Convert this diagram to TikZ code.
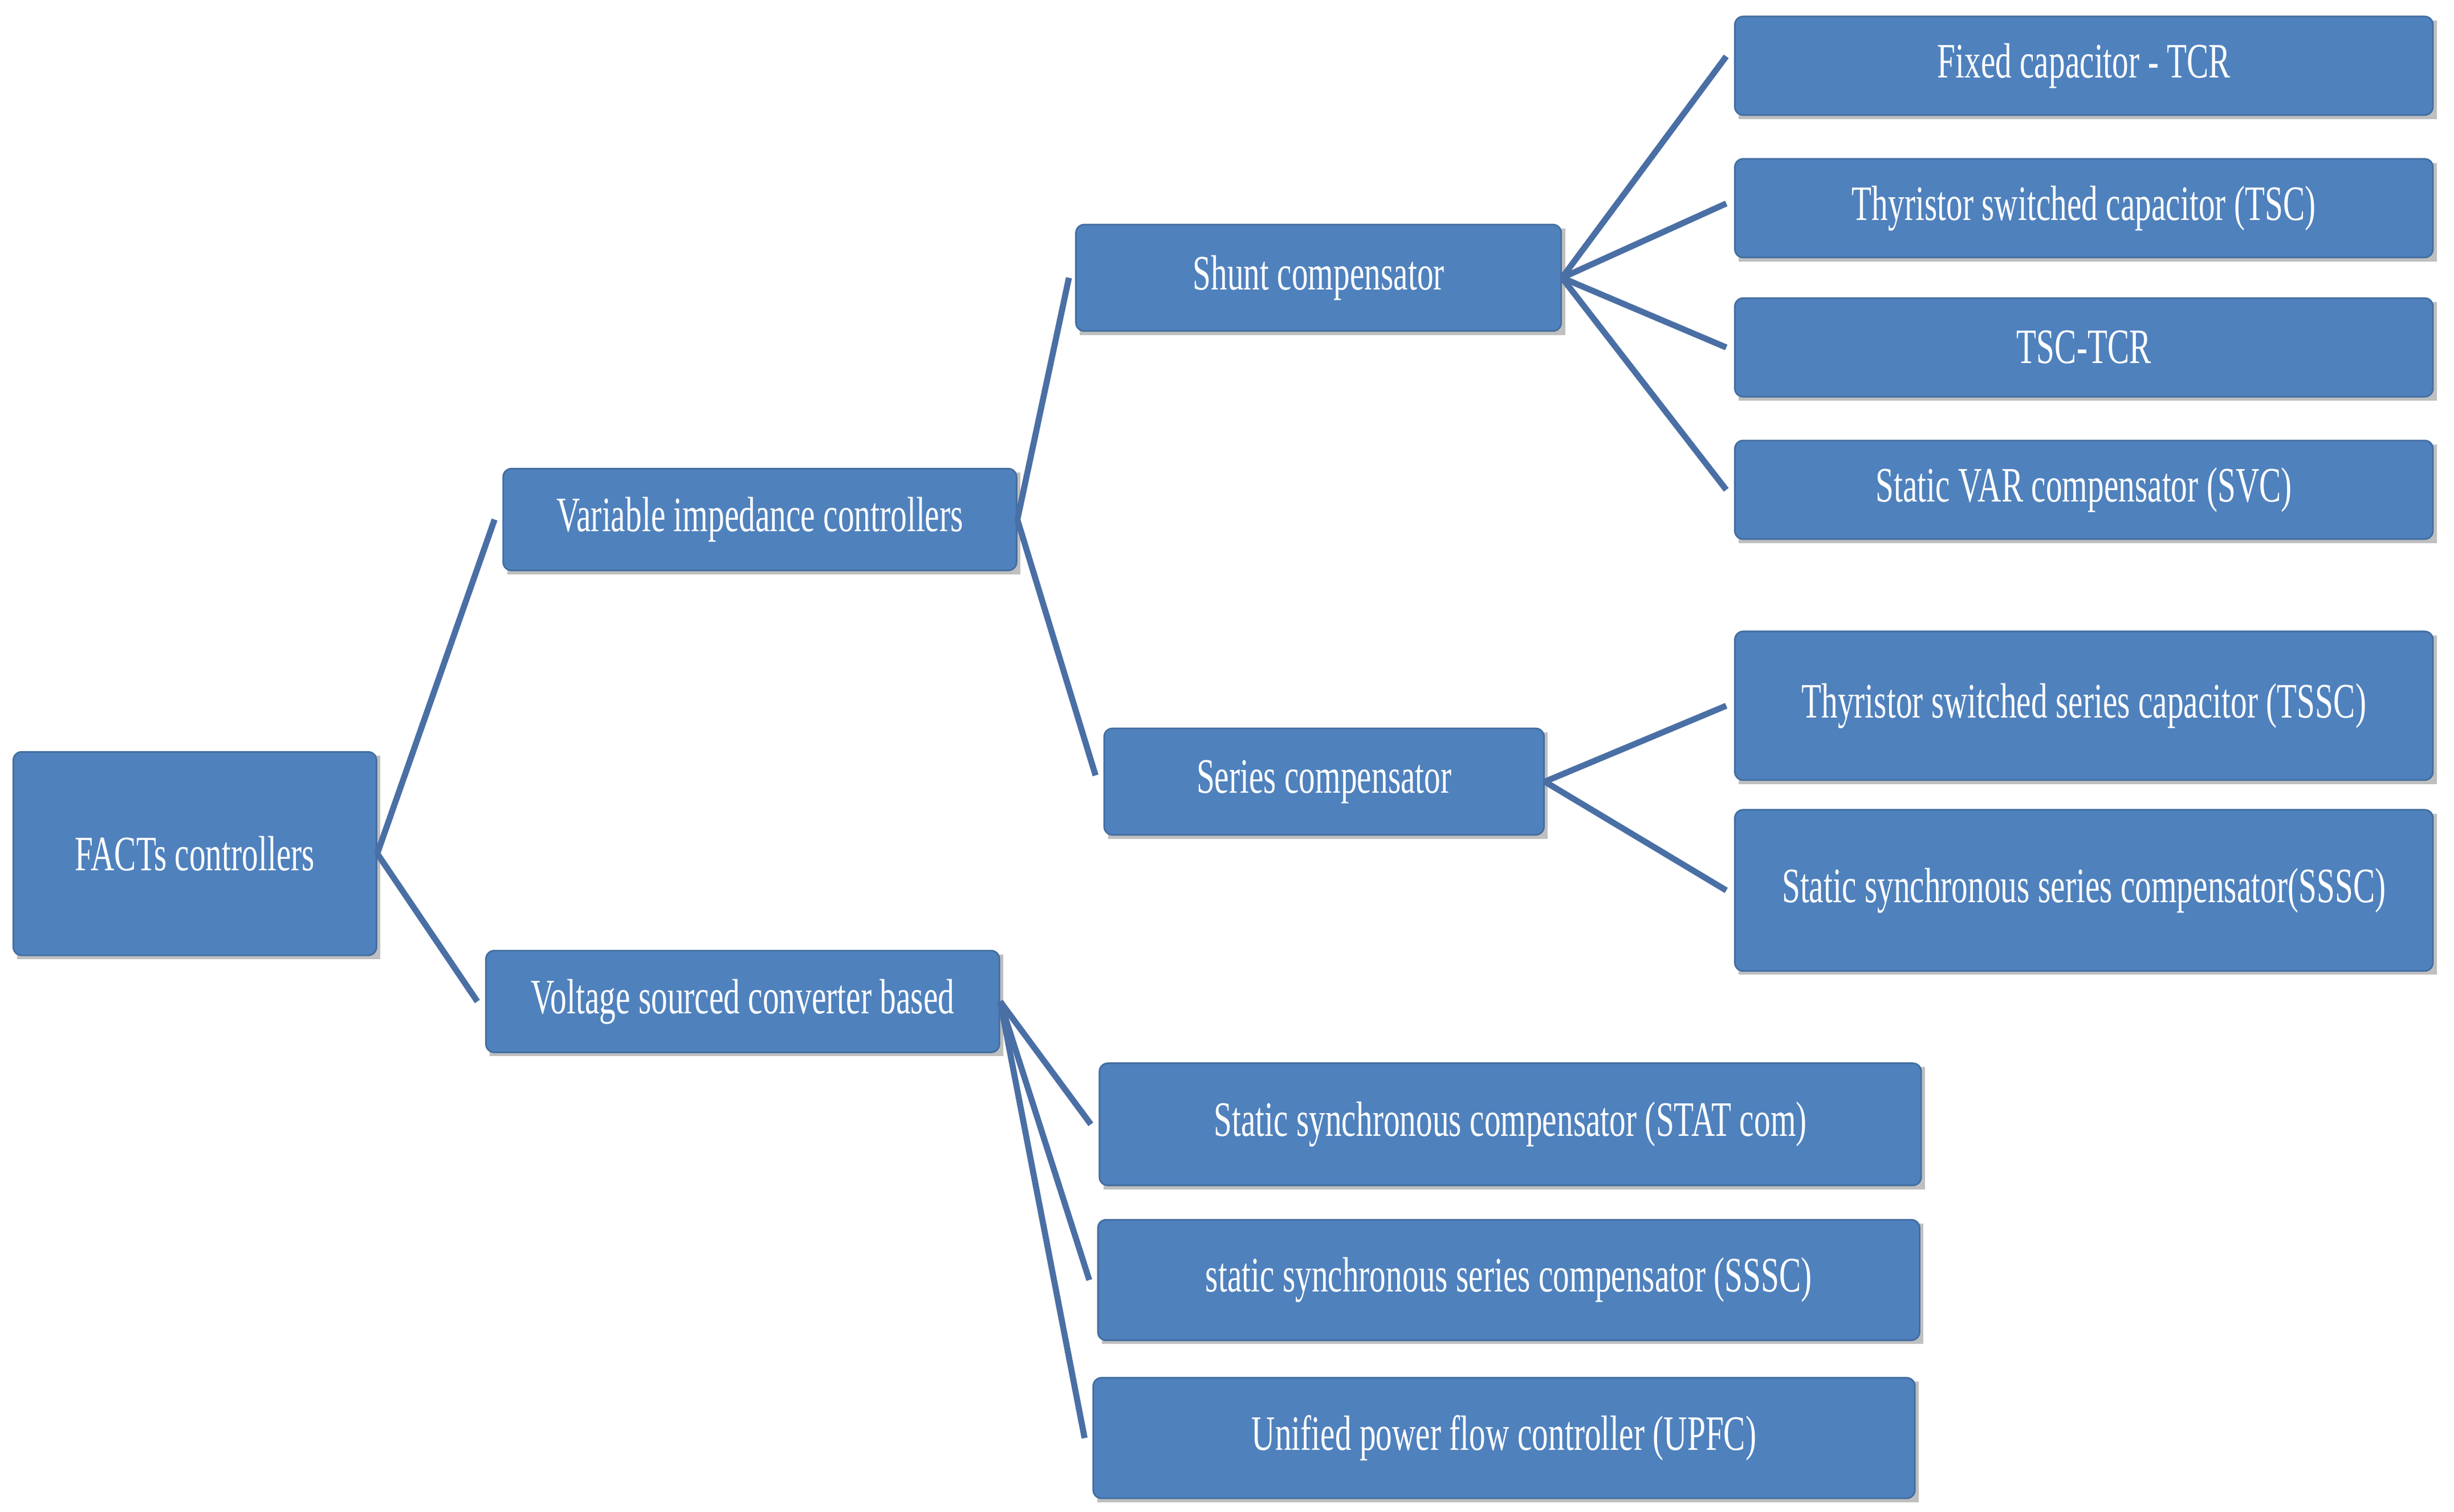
\documentclass[tikz,border=0pt]{standalone}
\usepackage{fontspec}
\setmainfont{Liberation Serif}[FakeStretch=0.66]
\usetikzlibrary{calc}
\definecolor{boxc}{HTML}{4F81BD}
\definecolor{linec}{HTML}{4A6FA5}
\begin{document}
\begin{tikzpicture}[x=0.01cm,y=-0.01cm,
  box/.style={fill=boxc,draw=boxc!85!black,line width=0.3pt,rounded corners=1.5pt,text=white,font=\fontsize{9}{10}\selectfont},
  ln/.style={draw=linec,line width=1.1pt}]
\useasboundingbox (0,0) rectangle (1568,966);
\newcommand{\bx}[6]{\fill[black!25] (#2+3,#3+3) rectangle (#4+3,#5+3);
  \node[box,minimum width={(#4-#2)*0.01cm},minimum height={(#5-#3)*0.01cm},anchor=north west,inner sep=0pt] (#1) at (#2,#3) {#6};}
\bx{f}{8}{480}{240}{610}{FACTs controllers}
\bx{v}{321}{299}{649}{364}{Variable impedance controllers}
\bx{vs}{310}{607}{638}{672}{Voltage sourced converter based}
\bx{sh}{687}{143}{997}{211}{Shunt compensator}
\bx{se}{705}{465}{986}{533}{Series compensator}
\bx{a1}{1108}{10}{1554}{73}{Fixed capacitor - TCR}
\bx{a2}{1108}{101}{1554}{164}{Thyristor switched capacitor (TSC)}
\bx{a3}{1108}{190}{1554}{253}{TSC-TCR}
\bx{a4}{1108}{281}{1554}{344}{Static VAR compensator (SVC)}
\bx{b1}{1108}{403}{1554}{498}{Thyristor switched series capacitor (TSSC)}
\bx{b2}{1108}{517}{1554}{620}{Static synchronous series compensator(SSSC)}
\bx{c1}{702}{679}{1227}{757}{Static synchronous compensator (STAT com)}
\bx{c2}{701}{779}{1226}{856}{static synchronous series compensator (SSSC)}
\bx{c3}{698}{880}{1223}{957}{Unified power flow controller (UPFC)}
\draw[ln] (f.east) -- ($(v.west)+(-5,0)$);
\draw[ln] (f.east) -- ($(vs.west)+(-5,0)$);
\draw[ln] (v.east) -- ($(sh.west)+(-4,0)$);
\draw[ln] (v.east) -- ($(se.west)+(-5,-4)$);
\foreach \t/\d in {a1/-6,a2/-3,a3/0,a4/0}{\draw[ln] (sh.east) -- ($(\t.west)+(-5,\d)$);}
\draw[ln] (se.east) -- ($(b1.west)+(-5,0)$);
\draw[ln] (se.east) -- ($(b2.west)+(-5,0)$);
\draw[ln] (vs.east) -- ($(c1.west)+(-5,0)$);
\draw[ln] (vs.east) -- ($(c2.west)+(-5,0)$);
\draw[ln] (vs.east) -- ($(c3.west)+(-5,0)$);
\end{tikzpicture}
\end{document}
